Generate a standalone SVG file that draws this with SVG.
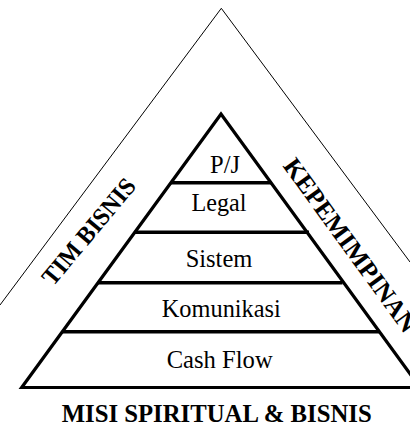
<svg xmlns="http://www.w3.org/2000/svg" width="410" height="425" viewBox="0 0 410 425">
<style>
.lbl{font-family:"Liberation Serif","Times New Roman",serif;font-size:25.5px;fill:#000;text-anchor:middle}
.bold{font-family:"Liberation Serif","Times New Roman",serif;font-size:25px;font-weight:bold;fill:#000}
.thin{fill:none;stroke:#000;stroke-width:1}
.thick{fill:none;stroke:#000;stroke-width:3.2;stroke-linejoin:miter}
.bar{stroke:#000;stroke-width:3.5}
</style>
<rect width="410" height="425" fill="#fff"/>
<g id="outer-triangle">
<polyline class="thin" points="0,305 221.3,8.3 410,262"/>
</g>
<g id="pyramid">
<path class="thick" d="M420,387.5 L221,114 L21.7,387.5 L420,387.5"/>
</g>
<g id="connectors">
<line class="bar" x1="170.8" y1="182.7" x2="271.5" y2="182.7"/>
<line class="bar" x1="134.6" y1="232.3" x2="309" y2="232.3"/>
<line class="bar" x1="97.9" y1="282.7" x2="342.5" y2="282.7"/>
<line class="bar" x1="62" y1="331.7" x2="379" y2="331.7"/>
</g>
<g id="level-pj"><text class="lbl" x="225" y="173" textLength="30" lengthAdjust="spacingAndGlyphs">P/J</text></g>
<g id="level-legal"><text class="lbl" x="219" y="211" textLength="55" lengthAdjust="spacingAndGlyphs">Legal</text></g>
<g id="level-sistem"><text class="lbl" x="219" y="266.7" textLength="66.7" lengthAdjust="spacingAndGlyphs">Sistem</text></g>
<g id="level-komunikasi"><text class="lbl" x="221.3" y="316.7" textLength="119" lengthAdjust="spacingAndGlyphs">Komunikasi</text></g>
<g id="level-cashflow"><text class="lbl" x="219.7" y="367.5" textLength="106" lengthAdjust="spacingAndGlyphs">Cash Flow</text></g>
<g id="label-tim"><text class="bold" transform="translate(53,287) rotate(-50)" x="0" y="0" textLength="131" lengthAdjust="spacingAndGlyphs">TIM BISNIS</text></g>
<g id="label-kepemimpinan"><text class="bold" style="font-size:25.5px" transform="translate(282.3,166) rotate(54)" x="0" y="0">KEPEMIMPINAN</text></g>
<g id="label-misi"><text class="bold" x="216.7" y="421.5" text-anchor="middle" textLength="310" lengthAdjust="spacingAndGlyphs">MISI SPIRITUAL &amp; BISNIS</text></g>
</svg>
